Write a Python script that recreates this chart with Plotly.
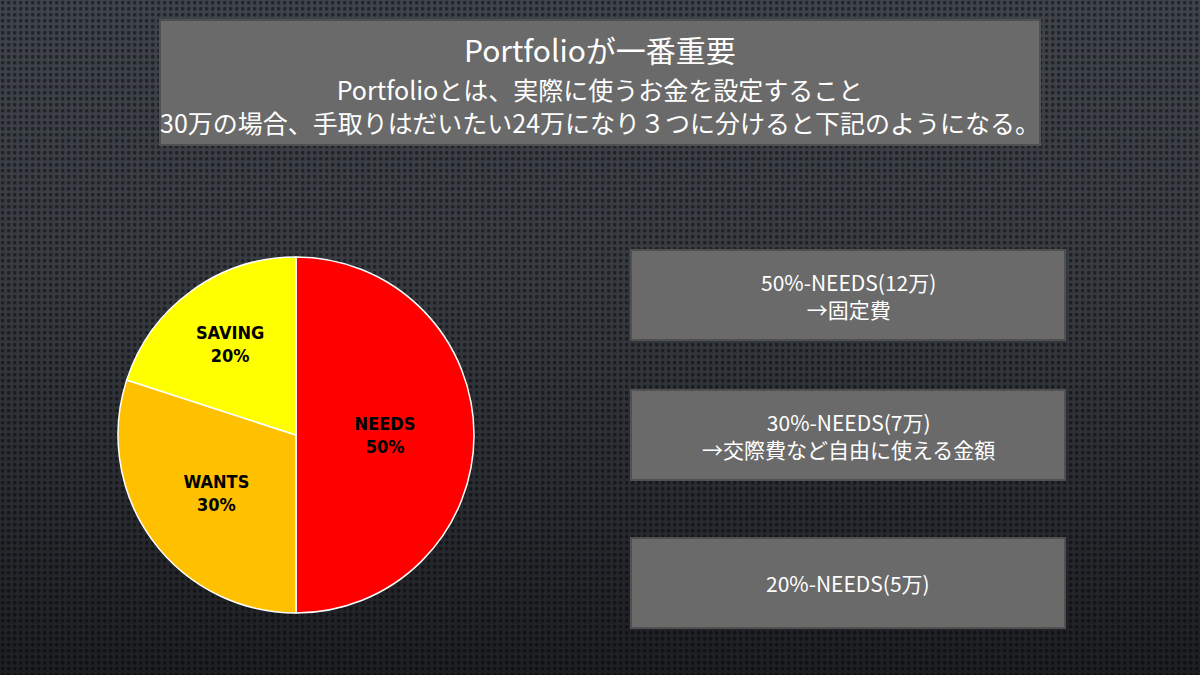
import base64
import plotly.graph_objects as go

W, H = 1200, 675

# ---- data ----
categories = ["NEEDS", "WANTS", "SAVING"]
shares = [50, 30, 20]
slice_colors = ["#FF0000", "#FFC000", "#FFFF00"]

title_text = "Portfolioが一番重要"
subtitle_lines = [
    "Portfolioとは、実際に使うお金を設定すること",
    "30万の場合、手取りはだいたい24万になり３つに分けると下記のようになる。",
]
box_texts = [
    "50%-NEEDS(12万)<br>→固定費",
    "30%-NEEDS(7万)<br>→交際費など自由に使える金額",
    "20%-NEEDS(5万)",
]

FONT = "Noto Sans CJK JP"
PIE_FONT = "DejaVu Sans Condensed"

# ---- background (dot texture + gradient) as SVG ----
svg = f"""<svg xmlns='http://www.w3.org/2000/svg' width='{W}' height='{H}'>
<defs>
<pattern id='p' width='6' height='6' patternUnits='userSpaceOnUse'>
<rect width='6' height='6' fill='#3f434a'/>
<rect x='1' y='1' width='3.4' height='3.4' rx='1' fill='#22252a'/>
</pattern>
<linearGradient id='g' x1='0' y1='0' x2='0' y2='1'>
<stop offset='0' stop-color='#000' stop-opacity='0'/>
<stop offset='0.4' stop-color='#000' stop-opacity='0.12'/>
<stop offset='1' stop-color='#000' stop-opacity='0.55'/>
</linearGradient>
</defs>
<rect width='{W}' height='{H}' fill='url(#p)'/>
<rect width='{W}' height='{H}' fill='url(#g)'/>
</svg>"""
bg_src = "data:image/svg+xml;base64," + base64.b64encode(svg.encode()).decode()

fig = go.Figure()

fig.add_trace(go.Pie(
    labels=categories,
    values=shares,
    sort=False,
    direction="clockwise",
    rotation=0,
    marker=dict(colors=slice_colors, line=dict(color="white", width=1.5)),
    texttemplate="<b>%{label}<br>%{percent:.0%}</b>",
    textposition="inside",
    insidetextorientation="horizontal",
    textfont=dict(family=PIE_FONT, size=18, color="black"),
    hoverinfo="label+percent",
    showlegend=False,
    domain=dict(x=[118 / W, 474 / W], y=[1 - 613 / H, 1 - 257 / H]),
))

def px_x(v):
    return v / W

def px_y(v):
    return 1 - v / H

shapes = []
annotations = []

# header box
hx = 0.5 * (px_x(160) + px_x(1040))
shapes.append(dict(type="rect", xref="paper", yref="paper",
                   x0=px_x(160), x1=px_x(1040), y0=px_y(145), y1=px_y(20),
                   fillcolor="#6a6a6a", line=dict(color="#505050", width=2), layer="above"))
annotations.append(dict(text=title_text, xref="paper", yref="paper",
                        x=hx, y=px_y(49), xanchor="center", yanchor="middle",
                        showarrow=False,
                        font=dict(family=FONT, size=30, color="white")))
annotations.append(dict(text="<br>".join(subtitle_lines), xref="paper", yref="paper",
                        x=hx, y=px_y(105), xanchor="center", yanchor="middle",
                        showarrow=False, align="center",
                        font=dict(family=FONT, size=25, color="white")))

# right side boxes
box_tops = [250, 390, 538]
box_h = 90
for txt, top in zip(box_texts, box_tops):
    shapes.append(dict(type="rect", xref="paper", yref="paper",
                       x0=px_x(631), x1=px_x(1065), y0=px_y(top + box_h), y1=px_y(top),
                       fillcolor="#6a6a6a", line=dict(color="#505050", width=2), layer="above"))
    annotations.append(dict(text=txt, xref="paper", yref="paper",
                            x=0.5 * (px_x(631) + px_x(1065)), y=px_y(top + box_h / 2),
                            xanchor="center", yanchor="middle", showarrow=False, align="center",
                            font=dict(family=FONT, size=21, color="white")))

fig.update_layout(
    width=W, height=H,
    margin=dict(l=0, r=0, t=0, b=0),
    paper_bgcolor="#2a2c30",
    plot_bgcolor="rgba(0,0,0,0)",
    images=[dict(source=bg_src, xref="paper", yref="paper", x=0, y=1,
                 sizex=1, sizey=1, xanchor="left", yanchor="top",
                 sizing="stretch", layer="below")],
    shapes=shapes,
    annotations=annotations,
)

fig.write_html("out.html")
